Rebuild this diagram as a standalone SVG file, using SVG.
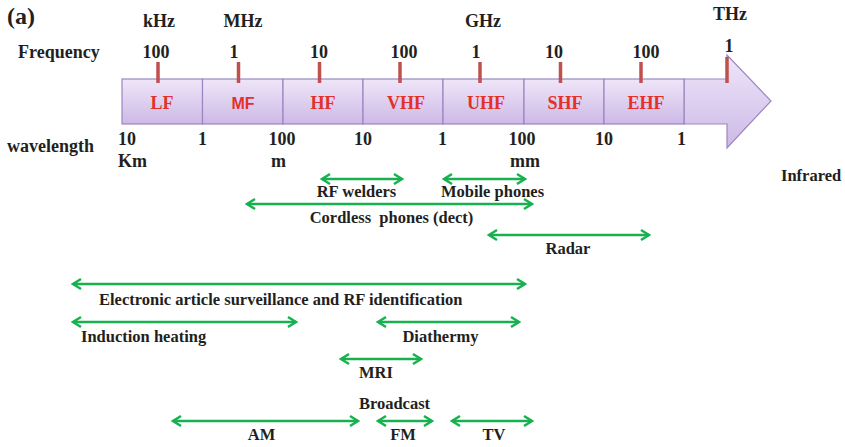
<svg xmlns="http://www.w3.org/2000/svg" width="845" height="447" viewBox="0 0 845 447">
<style>
.t{font-family:"Liberation Serif","Times New Roman",serif;font-weight:bold;fill:#231f20}
.h{font-size:18px}
.s{font-size:16.5px}
.band{font-family:"Liberation Serif","Times New Roman",serif;font-weight:bold;font-size:18px;fill:#e2312b;text-anchor:middle}
.c{text-anchor:middle}
.box{fill:url(#g);stroke:#9b86c2;stroke-width:1.2}
.tick{stroke:#c0504d;stroke-width:3.5}
.rng{stroke:#17b14f;stroke-width:2.5;fill:none;marker-start:url(#ch);marker-end:url(#ch)}
</style>
<defs>
<linearGradient id="g" x1="0" y1="0" x2="0" y2="1">
<stop offset="0" stop-color="#efe6f9"/>
<stop offset="1" stop-color="#cdb9e6"/>
</linearGradient>
<marker id="ch" markerUnits="userSpaceOnUse" markerWidth="14" markerHeight="14" refX="9" refY="7" orient="auto-start-reverse" viewBox="0 0 14 14">
<path d="M1,2 L9,7 L1,12" fill="none" stroke="#17b14f" stroke-width="2.5"/>
</marker>
</defs>
<rect width="845" height="447" fill="#ffffff"/>

<text class="t" x="7" y="24" font-size="24">(a)</text>
<g id="units" class="t h c">
<text x="159" y="27">kHz</text>
<text x="243" y="27">MHz</text>
<text x="483" y="27">GHz</text>
<text x="730" y="20">THz</text>
</g>
<text class="t h" x="18" y="58">Frequency</text>
<g id="freq-values" class="t h c">
<text x="156" y="58">100</text>
<text x="234" y="58">1</text>
<text x="319" y="58">10</text>
<text x="404" y="58">100</text>
<text x="476" y="58">1</text>
<text x="554" y="58">10</text>
<text x="646" y="58">100</text>
<text x="729" y="52">1</text>
</g>

<g id="spectrum-arrow">
<path class="box" d="M684,79 H727 V55 L771,101 L727,148 V124 H684 Z"/>
</g>
<g id="band-LF"><rect class="box" x="122" y="79" width="80.5" height="45"/><text class="band" x="162" y="109">LF</text></g>
<g id="band-MF"><rect class="box" x="202.5" y="79" width="80.5" height="45"/><text class="band" x="243" y="109" style="font-family:'Liberation Sans',Arial,sans-serif;font-size:16px">MF</text></g>
<g id="band-HF"><rect class="box" x="283" y="79" width="80" height="45"/><text class="band" x="323" y="109">HF</text></g>
<g id="band-VHF"><rect class="box" x="363" y="79" width="80" height="45"/><text class="band" x="406" y="109">VHF</text></g>
<g id="band-UHF"><rect class="box" x="443" y="79" width="81" height="45"/><text class="band" x="486" y="109">UHF</text></g>
<g id="band-SHF"><rect class="box" x="524" y="79" width="80" height="45"/><text class="band" x="565" y="109">SHF</text></g>
<g id="band-EHF"><rect class="box" x="604" y="79" width="80" height="45"/><text class="band" x="646" y="109">EHF</text></g>

<g id="ticks">
<line class="tick" x1="158" y1="62" x2="158" y2="83"/>
<line class="tick" x1="238.5" y1="62" x2="238.5" y2="83"/>
<line class="tick" x1="319.5" y1="62" x2="319.5" y2="83"/>
<line class="tick" x1="400" y1="62" x2="400" y2="83"/>
<line class="tick" x1="480" y1="62" x2="480" y2="83"/>
<line class="tick" x1="560.5" y1="62" x2="560.5" y2="83"/>
<line class="tick" x1="641" y1="62" x2="641" y2="83"/>
<line class="tick" x1="727" y1="57" x2="727" y2="83"/>
</g>

<text class="t h" x="7" y="152">wavelength</text>
<g id="wave-values" class="t h c">
<text x="127" y="145">10</text>
<text x="202.5" y="145">1</text>
<text x="282" y="145">100</text>
<text x="363" y="145">10</text>
<text x="442.5" y="145">1</text>
<text x="522" y="145">100</text>
<text x="604" y="145">10</text>
<text x="681.5" y="145">1</text>
<text x="132.5" y="167">Km</text>
<text x="278.5" y="167">m</text>
<text x="525" y="167">mm</text>
</g>

<g id="connectors">
<line class="rng" x1="322" y1="179" x2="402" y2="179"/>
<line class="rng" x1="444" y1="179" x2="525" y2="179"/>
<line class="rng" x1="247" y1="204" x2="532" y2="204"/>
<line class="rng" x1="489" y1="235" x2="649" y2="235"/>
<line class="rng" x1="73" y1="284" x2="525" y2="284"/>
<line class="rng" x1="73" y1="322" x2="296" y2="322"/>
<line class="rng" x1="378" y1="322" x2="519" y2="322"/>
<line class="rng" x1="341" y1="359" x2="421" y2="359"/>
<line class="rng" x1="173" y1="421" x2="358" y2="421"/>
<line class="rng" x1="378" y1="421" x2="432" y2="421"/>
<line class="rng" x1="452" y1="421" x2="532" y2="421"/>
</g>

<g id="applications" class="t s">
<text class="c" x="356.5" y="197">RF welders</text>
<text class="c" x="492.5" y="197">Mobile phones</text>
<text class="c" x="391.5" y="223" style="white-space:pre">Cordless  phones (dect)</text>
<text class="c" x="568" y="254">Radar</text>
<text x="781" y="181">Infrared</text>
<text x="99" y="305">Electronic article surveillance and RF identification</text>
<text x="81" y="342">Induction heating</text>
<text class="c" x="440.5" y="342">Diathermy</text>
<text class="c" x="376" y="378">MRI</text>
<text class="c" x="394.5" y="409">Broadcast</text>
<text class="c" x="261.5" y="440">AM</text>
<text class="c" x="403" y="440">FM</text>
<text class="c" x="494" y="440">TV</text>
</g>
</svg>
